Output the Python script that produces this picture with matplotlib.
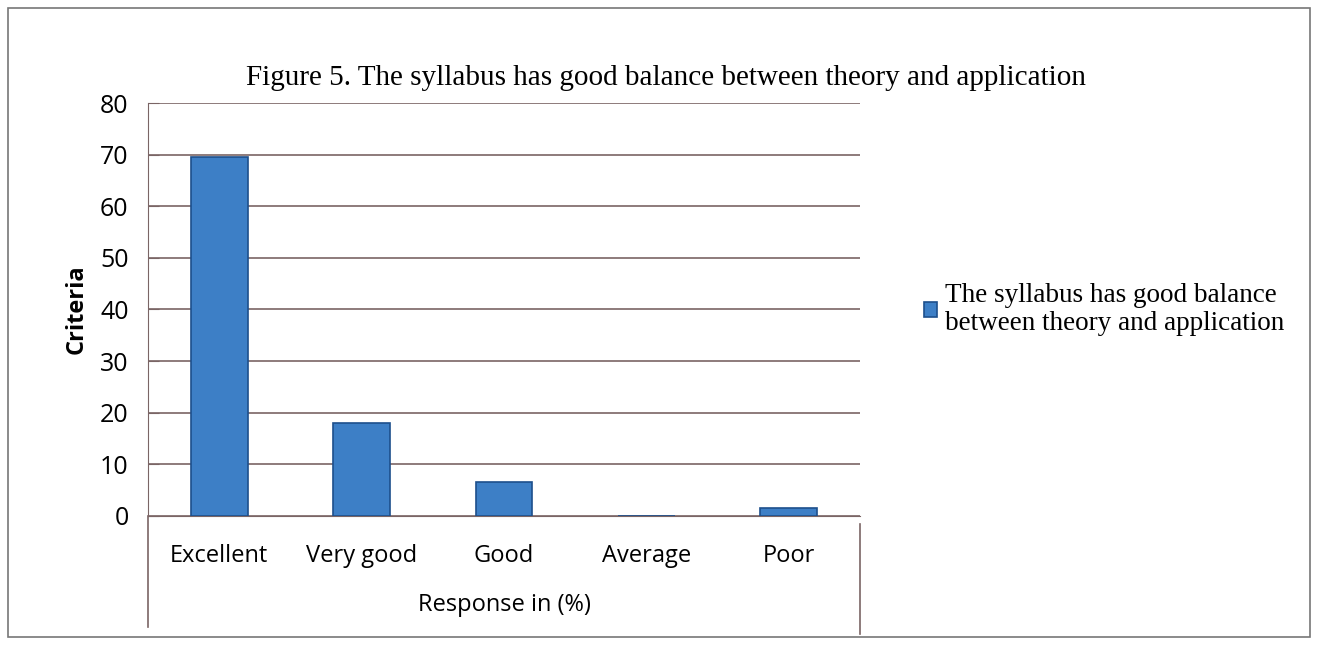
import matplotlib.pyplot as plt
from matplotlib.patches import Rectangle
from matplotlib.lines import Line2D

categories = ['Excellent', 'Very good', 'Good', 'Average', 'Poor']
values = [69.5, 18, 6.5, 0, 1.5]
series_name = 'The syllabus has good balance\nbetween theory and application'
title = 'Figure 5. The syllabus has good balance between theory and application'

fig = plt.figure(figsize=(13.18, 6.5), dpi=100)
ax = fig.add_axes([0.1123, 0.2062, 0.5402, 0.6353])

x = range(len(categories))
ax.bar(x, values, width=0.4, color='#3d7fc6', edgecolor='#1d4f8c', linewidth=1.2,
       label=series_name, zorder=3)

ax.set_ylim(0, 80)
ax.set_xlim(-0.5, len(categories) - 0.5)
ax.set_yticks(range(0, 81, 10))
ax.grid(axis='y', color='#7a6565', linewidth=1.2, zorder=0)
ax.set_xticks(list(x))
ax.set_xticklabels(categories, family='Open Sans', fontsize=17)
for lab in ax.get_yticklabels():
    lab.set_family('Open Sans')
    lab.set_fontsize(18)
ax.tick_params(axis='x', length=0, pad=20)
ax.tick_params(axis='y', length=8, direction='in', pad=14, color='#7a6565')

for s in ['top', 'right']:
    ax.spines[s].set_visible(False)
ax.spines['left'].set_color('#7a6565')
ax.spines['bottom'].set_color('#7a6565')

ax.set_ylabel('Criteria', family='Open Sans', fontsize=17, fontweight='bold', labelpad=8)
ax.set_xlabel('Response in (%)', family='Open Sans', fontsize=17, labelpad=18)

# extended frame lines below the plot area, as in the scan
ax.add_line(Line2D([0, 0], [0, -0.27], transform=ax.transAxes, color='#7a6565',
                   linewidth=1.2, clip_on=False))
ax.add_line(Line2D([1, 1], [-0.02, -0.285], transform=ax.transAxes, color='#7a6565',
                   linewidth=1.2, clip_on=False))

fig.text(0.505, 0.88, title, ha='center', va='center', family='Liberation Serif', fontsize=21)

leg = ax.legend(loc='center left', bbox_to_anchor=(1.055, 0.5), frameon=False,
                prop={'family': 'Liberation Serif', 'size': 19.5}, handlelength=0.5,
                handleheight=0.5, handletextpad=0.3, labelspacing=0.2)

fig.add_artist(Rectangle((0.006, 0.02), 0.988, 0.968, transform=fig.transFigure,
                         fill=False, edgecolor='#777777', linewidth=1.2))

fig.savefig('out.png', dpi=100, facecolor='white')
